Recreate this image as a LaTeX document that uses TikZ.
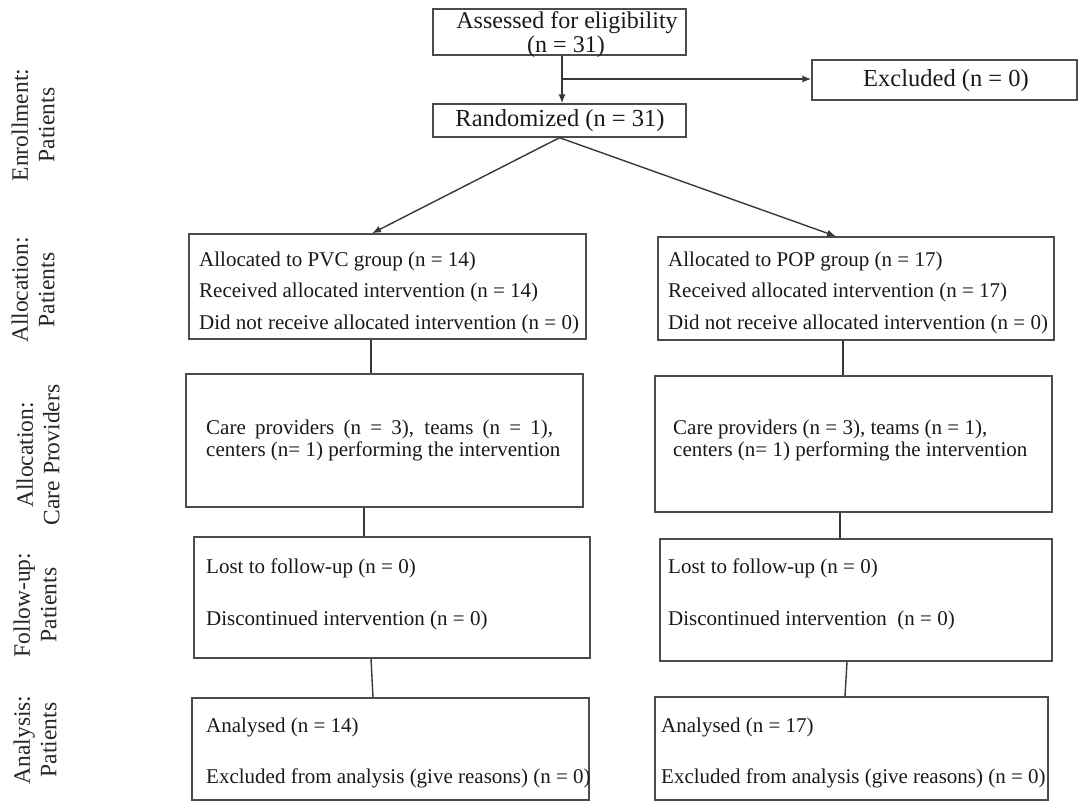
\documentclass[tikz,border=0pt]{standalone}
\usepackage{fontspec}
\setmainfont{Liberation Serif}
\usetikzlibrary{arrows.meta}
\begin{document}
\begin{tikzpicture}[x=1pt,y=-1pt,
  box/.style={draw=black!70, line width=1.4pt, inner sep=0pt},
  txt/.style={anchor=west, inner sep=0pt, font=\fontsize{21}{21}\selectfont, text=black!90},
  toptxt/.style={inner sep=0pt, font=\fontsize{24.5}{24.5}\selectfont, text=black!90},
  tight/.style={font=\fontsize{24}{24}\selectfont, text height=16pt, text depth=5pt},
  lab/.style={rotate=90, align=center, inner sep=0pt, font=\fontsize{23.5}{26.5}\selectfont, text=black!85},
  conn/.style={draw=black!78, line width=1.4pt},
  arr/.style={conn, -{Latex[length=9pt,width=7pt]}}]
\useasboundingbox (0,0) rectangle (1078,801);

% left stage labels
\node[lab] (L1) at (33,125) {Enrollment:\\Patients};
\node[lab] (L2) at (33,290) {Allocation:\\Patients};
\node[lab] (L3) at (38,455) {Allocation:\\Care Providers};
\node[lab] (L4) at (35,605) {Follow-up:\\Patients};
\node[lab] (L5) at (35,740) {Analysis:\\Patients};

% top boxes
\node[box, minimum width=253pt, minimum height=46pt] (T) at (559.5,32) {};
\node[toptxt, tight] (t1) at (567,22.5) {Assessed for eligibility};
\node[toptxt, tight] (t2) at (566,46.5) {(n = 31)};
\node[box, minimum width=253pt, minimum height=33pt] (R) at (559.5,120.5) {};
\node[toptxt] (r1) at (560,121) {Randomized (n = 31)};
\node[box, minimum width=265pt, minimum height=40pt] (E) at (944.5,80) {};
\node[toptxt] (e1) at (946,81) {Excluded (n = 0)};

% allocation patients
\node[box, minimum width=397pt, minimum height=105pt] (A1) at (387.5,286.5) {};
\node[txt] (a11) at (199,261) {Allocated to PVC group (n = 14)};
\node[txt] (a12) at (199,292) {Received allocated intervention (n = 14)};
\node[txt] (a13) at (199,324) {Did not receive allocated intervention (n = 0)};
\node[box, minimum width=396pt, minimum height=103pt] (A2) at (856,288.5) {};
\node[txt] (a21) at (668,261) {Allocated to POP group (n = 17)};
\node[txt] (a22) at (668,292) {Received allocated intervention (n = 17)};
\node[txt] (a23) at (668,324) {Did not receive allocated intervention (n = 0)};

% care providers
\node[box, minimum width=397pt, minimum height=133pt] (C1) at (384.5,440.5) {};
\node[txt] (c11) at (206,429) {\makebox[347pt][s]{Care providers (n = 3), teams (n = 1),}};
\node[txt] (c12) at (206,451) {centers (n= 1) performing the intervention};
\node[box, minimum width=397pt, minimum height=136pt] (C2) at (853.5,444) {};
\node[txt] (c21) at (673,429) {Care providers (n = 3), teams (n = 1),};
\node[txt] (c22) at (673,451) {centers (n= 1) performing the intervention};

% follow-up
\node[box, minimum width=396pt, minimum height=121pt] (F1) at (392,597.5) {};
\node[txt] (f11) at (206,568) {Lost to follow-up (n = 0)};
\node[txt] (f12) at (206,620) {Discontinued intervention (n = 0)};
\node[box, minimum width=392pt, minimum height=122pt] (F2) at (856,600) {};
\node[txt] (f21) at (668,568) {Lost to follow-up (n = 0)};
\node[txt] (f22) at (668,620) {Discontinued intervention~ (n = 0)};

% analysis
\node[box, minimum width=397pt, minimum height=102pt] (N1) at (390.5,749) {};
\node[txt] (n11) at (206,727) {Analysed (n = 14)};
\node[txt] (n12) at (206,778) {Excluded from analysis (give reasons) (n = 0)};
\node[box, minimum width=393pt, minimum height=103pt] (N2) at (851.5,748.5) {};
\node[txt] (n21) at (661,727) {Analysed (n = 17)};
\node[txt] (n22) at (661,778) {Excluded from analysis (give reasons) (n = 0)};

% connectors
\coordinate (j) at (562,79);
\coordinate (pl) at (372,0);
\coordinate (pr) at (836,0);
\coordinate (x1) at (371,0);
\coordinate (x2) at (843,0);
\coordinate (x3) at (364,0);
\coordinate (x4) at (840,0);
\coordinate (x5a) at (371,0);
\coordinate (x5b) at (373,0);
\coordinate (x6a) at (847,0);
\coordinate (x6b) at (845,0);
\draw[arr] (T.south -| j) -- (R.north -| j);
\draw[arr] (j) -- (E.west |- j);
\draw[arr] (R.south) -- (A1.north -| pl);
\draw[arr] (R.south) -- (A2.north -| pr);
\draw[conn] (A1.south -| x1) -- (C1.north -| x1);
\draw[conn] (A2.south -| x2) -- (C2.north -| x2);
\draw[conn] (C1.south -| x3) -- (F1.north -| x3);
\draw[conn] (C2.south -| x4) -- (F2.north -| x4);
\draw[conn] (F1.south -| x5a) -- (N1.north -| x5b);
\draw[conn] (F2.south -| x6a) -- (N2.north -| x6b);
\end{tikzpicture}
\end{document}
